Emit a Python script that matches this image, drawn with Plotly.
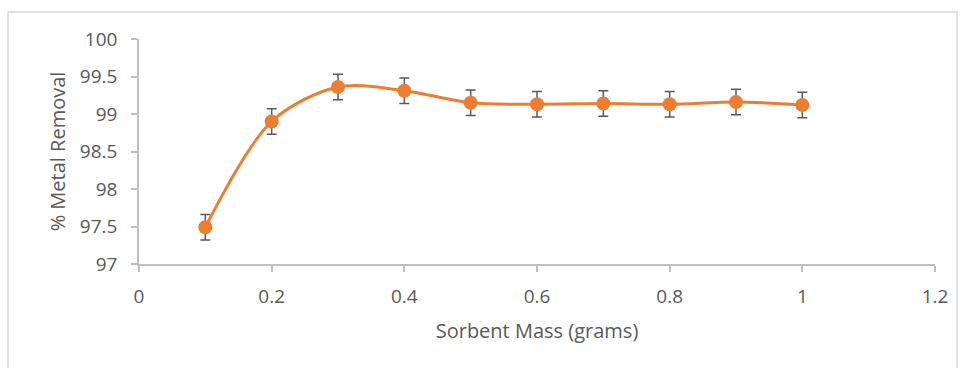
import plotly.graph_objects as go

# Sorbent dosage study: removal efficiency vs. mass of sorbent
sorbent_mass = [0.1, 0.2, 0.3, 0.4, 0.5, 0.6, 0.7, 0.8, 0.9, 1.0]
metal_removal = [97.49, 98.90, 99.36, 99.31, 99.15, 99.13, 99.14, 99.13, 99.16, 99.12]
removal_error = [0.17, 0.17, 0.17, 0.17, 0.17, 0.17, 0.17, 0.17, 0.17, 0.17]

x_ticks = [0, 0.2, 0.4, 0.6, 0.8, 1, 1.2]
x_tick_text = ["0", "0.2", "0.4", "0.6", "0.8", "1", "1.2"]
y_ticks = [97, 97.5, 98, 98.5, 99, 99.5, 100]
y_tick_text = ["97", "97.5", "98", "98.5", "99", "99.5", "100"]

ORANGE = "#ED7D31"
TEXT = "#595959"
AXIS = "#BFBFBF"
FONT = "Open Sans"

fig = go.Figure()
fig.add_trace(go.Scatter(
    x=sorbent_mass,
    y=metal_removal,
    mode="lines+markers",
    line=dict(color=ORANGE, width=3, shape="spline", smoothing=0.9),
    marker=dict(color=ORANGE, size=14),
    error_y=dict(type="data", array=removal_error, visible=True,
                 color=TEXT, thickness=1.5, width=5),
    showlegend=False,
))

W, H = 965, 368
ml, mr, mt, mb = 139, 30, 39, 104
pw, ph = W - ml - mr, H - mt - mb

def px_x(px):
    return (px - ml) / pw

def px_y(py):
    return (H - mb - py) / ph

fig.update_layout(
    width=W, height=H,
    margin=dict(l=ml, r=mr, t=mt, b=mb),
    paper_bgcolor="white",
    plot_bgcolor="white",
    font=dict(family=FONT, color=TEXT, size=19),
    xaxis=dict(
        range=[0, 1.2], tickvals=x_ticks, ticktext=x_tick_text,
        showgrid=False, zeroline=False,
        showline=True, linecolor=AXIS, linewidth=1.5,
        ticks="outside", ticklen=6, tickcolor=AXIS, tickwidth=1.5,
        ticklabelstandoff=8,
        tickfont=dict(size=19, color=TEXT, family=FONT),
        title=dict(text="Sorbent Mass (grams)", standoff=16,
                   font=dict(size=20, color=TEXT, family=FONT)),
    ),
    yaxis=dict(
        range=[97, 100], tickvals=y_ticks, ticktext=y_tick_text,
        showgrid=False, zeroline=False,
        showline=True, linecolor=AXIS, linewidth=1.5,
        ticks="outside", ticklen=6, tickcolor=AXIS, tickwidth=1.5,
        ticklabelstandoff=10,
        tickfont=dict(size=19, color=TEXT, family=FONT),
        title=dict(text="% Metal Removal", standoff=9,
                   font=dict(size=20, color=TEXT, family=FONT)),
    ),
    shapes=[dict(
        type="rect", xref="paper", yref="paper",
        x0=px_x(8), x1=px_x(957), y0=px_y(380), y1=px_y(12),
        line=dict(color="#D9D9D9", width=1.5), fillcolor="rgba(0,0,0,0)",
        layer="below",
    )],
)

fig.write_html("out.html")
